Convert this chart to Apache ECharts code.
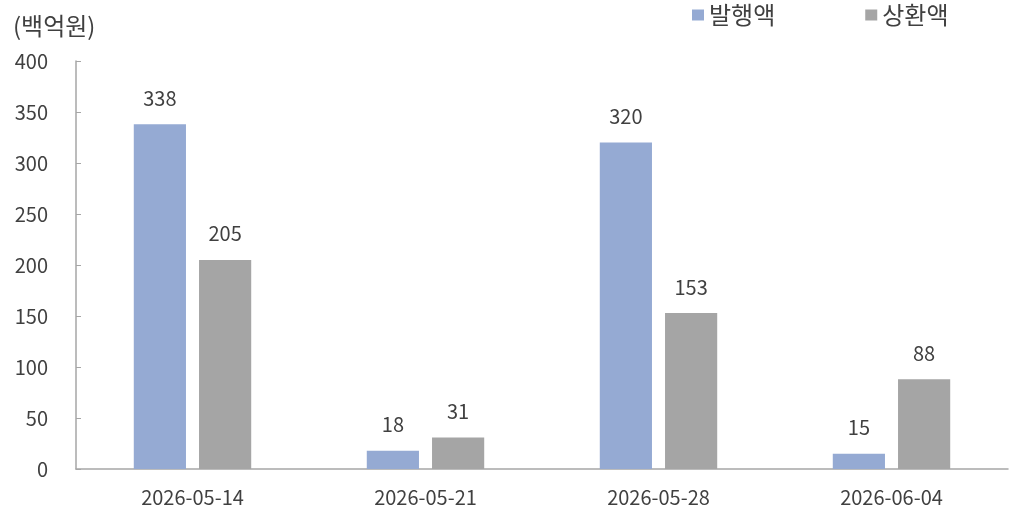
<!DOCTYPE html>
<html><head><meta charset="utf-8">
<script src="https://cdn.jsdelivr.net/npm/echarts@6/dist/echarts.min.js"></script>
<style>html,body{margin:0;padding:0;background:#fff}#c{width:1014px;height:516px}</style>
</head><body><div id="c"></div>
<script>
const categories = ['2026-05-14', '2026-05-21', '2026-05-28', '2026-06-04'];
const issued = [338, 18, 320, 15];
const redeemed = [205, 31, 153, 88];
const yTicks = [0, 50, 100, 150, 200, 250, 300, 350, 400];
const seriesNames = ['발행액', '상환액'];
const unitLabel = '(백억원)';

const font = "'Noto Sans CJK KR', 'Noto Sans', sans-serif";
const chart = echarts.init(document.getElementById('c'));
chart.setOption({
  animation: false,
  textStyle: { fontFamily: font },
  title: {
    text: unitLabel, left: 8, top: 9,
    textStyle: { fontSize: 24, fontWeight: 'normal', color: '#404040', fontFamily: font }
  },
  legend: {
    data: seriesNames, top: 3, left: 692, itemGap: 90, padding: 0,
    icon: 'rect', itemWidth: 12, itemHeight: 11,
    textStyle: { fontSize: 24, color: '#404040', fontFamily: font }
  },
  grid: { left: 76, right: 6, top: 61, bottom: 47 },
  xAxis: {
    type: 'category', data: categories,
    axisLine: { lineStyle: { color: '#a6a6a6', width: 1.5 } },
    axisTick: { inside: true, length: 6, lineStyle: { color: '#a6a6a6' } },
    axisLabel: { fontSize: 20, color: '#404040', margin: 18, fontFamily: font }
  },
  yAxis: {
    type: 'value', min: yTicks[0], max: yTicks[yTicks.length - 1], interval: 50,
    axisLine: { show: true, lineStyle: { color: '#a6a6a6', width: 1.5 } },
    axisTick: { show: true, inside: true, length: 5, lineStyle: { color: '#a6a6a6' } },
    splitLine: { show: false },
    axisLabel: { fontSize: 20, color: '#404040', margin: 28, fontFamily: font }
  },
  series: [
    {
      name: seriesNames[0], type: 'bar', data: issued,
      barWidth: '22.4%', barGap: '25%',
      itemStyle: { color: '#95aad3' },
      label: { show: true, position: 'top', distance: 16, fontSize: 20, color: '#404040', fontFamily: font }
    },
    {
      name: seriesNames[1], type: 'bar', data: redeemed,
      barWidth: '22.4%', barGap: '25%',
      itemStyle: { color: '#a5a5a5' },
      label: { show: true, position: 'top', distance: 16, fontSize: 20, color: '#404040', fontFamily: font }
    }
  ]
});
</script></body></html>
